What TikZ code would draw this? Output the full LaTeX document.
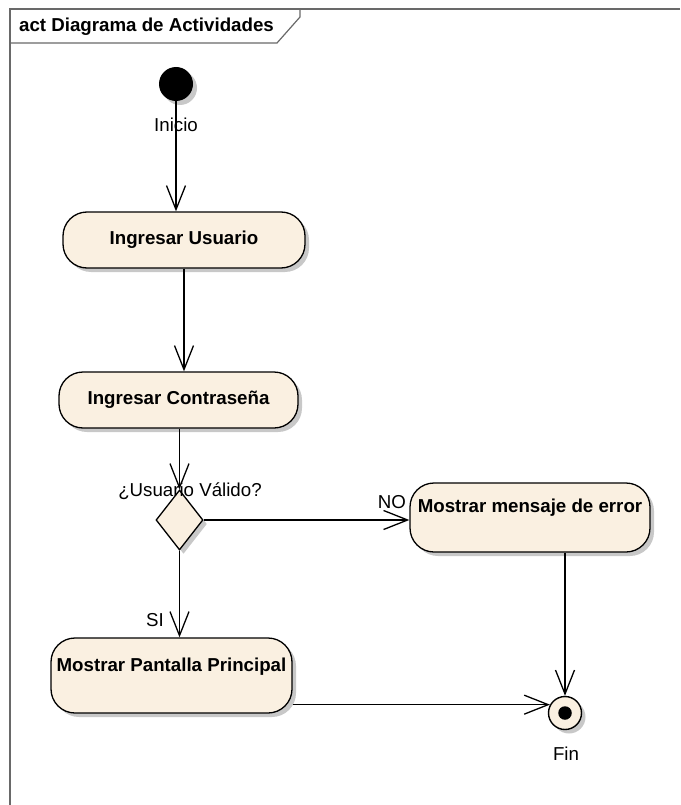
\documentclass[tikz,border=0pt]{standalone}
\usepackage{fontspec}
\setmainfont{Liberation Sans}
\usetikzlibrary{shapes.geometric,arrows.meta,shadows}

\definecolor{actfill}{RGB}{250,240,225}
\definecolor{shadowgray}{RGB}{200,200,200}
\definecolor{framegray}{RGB}{105,105,105}

\tikzset{
  shadowed/.style={drop shadow={shadow xshift=4pt, shadow yshift=-4pt, fill=shadowgray, opacity=1}},
  actbox/.style={draw=black, line width=1.3pt, fill=actfill, rounded corners=24pt,
    shadowed, inner sep=0pt},
  acttext/.style={font=\fontsize{18.7}{20}\selectfont\bfseries, inner sep=0pt},
  plain/.style={font=\fontsize{18.7}{20}\selectfont, inner sep=0pt},
  flow/.style={draw=black, line width=1.3pt, -{Straight Barb[length=24pt,width=19pt,line width=1.3pt]}},
}

\begin{document}
\begin{tikzpicture}[x=1pt,y=-1pt]
\useasboundingbox (0,0) rectangle (680,805);

% diagram frame with its name tab
\draw[framegray, line width=1.4pt] (680,9) -- (10,9) -- (10,805);
\draw[framegray, line width=1.2pt] (300,9) -- (300,17) -- (277,43) -- (10,43);
\node[acttext, anchor=west] (title) at (19,27) {act Diagrama de Actividades};

% start node
\node[circle, fill=black, minimum size=34pt, inner sep=0pt, shadowed] (init) at (176,84) {};
\node[plain] (initlbl) at (176,125) {Inicio};

% actions
\node[actbox, minimum width=242pt, minimum height=56pt] (usuario) at (184,240) {};
\node[acttext] (usuariot) at (usuario.center) {Ingresar Usuario};

\node[actbox, minimum width=239pt, minimum height=56pt] (contra) at (178.5,400) {};
\node[acttext] (contrat) at (contra.center) {Ingresar Contraseña};

\node[actbox, minimum width=240pt, minimum height=69pt] (error) at (530,517.5) {};
\node[acttext] (errort) at ([yshift=-25pt]error.north) {Mostrar mensaje de error};

\node[actbox, minimum width=241pt, minimum height=75pt] (ppal) at (171.5,675.5) {};
\node[acttext] (ppalt) at ([yshift=-29pt]ppal.north) {Mostrar Pantalla Principal};

% decision
\node[diamond, draw=black, line width=1.3pt, fill=actfill, inner sep=0pt,
      minimum width=47pt, minimum height=60pt, shadowed] (dec) at (179.5,520) {};
\node[plain] (declbl) at (190,491) {¿Usuario Válido?};

% final node
\node[circle, draw=black, line width=1.4pt, fill=actfill, minimum size=33pt,
      inner sep=0pt, shadowed] (fin) at (565,713) {};
\node[circle, fill=black, minimum size=13.5pt, inner sep=0pt] (findot) at (fin.center) {};
\node[plain] (finlbl) at (566,754) {Fin};

% control flows
\draw[flow] (init) -- (init |- usuario.north);
\draw[flow] (usuario.south) -- (usuario.south |- contra.north);
\draw[flow] (dec.north |- contra.south) -- (dec.north);
\draw[flow] (dec.east) -- (dec.east -| error.west);
\draw[flow] (dec.south) -- (dec.south |- ppal.north);
\draw[flow] (fin.north |- error.south) -- (fin.north);
\draw[flow] (ppal.east |- fin.151) -- (fin.151);

% guards
\node[plain] (nolbl) at (392,502) {NO};
\node[plain] (silbl) at (155,620) {SI};
\end{tikzpicture}
\end{document}
